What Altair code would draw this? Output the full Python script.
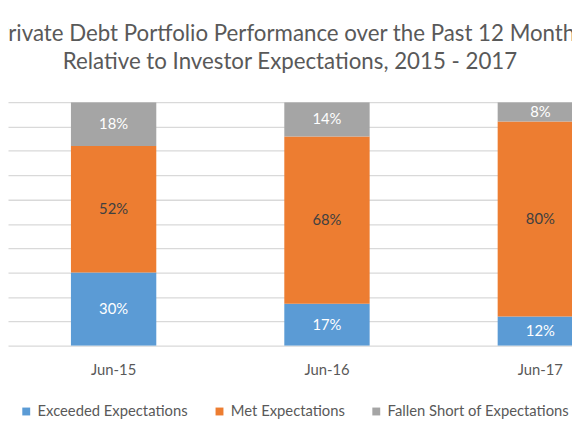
import altair as alt
import pandas as pd

dates = ["Jun-15", "Jun-16", "Jun-17"]
series_names = ["Exceeded Expectations", "Met Expectations", "Fallen Short of Expectations"]
exceeded = [30, 17, 12]
met = [52, 68, 80]
fallen = [18, 14, 8]
colors = ["#5B9BD5", "#ED7D31", "#A5A5A5"]

rows = []
for i, d in enumerate(dates):
    for k, (name, vals) in enumerate(zip(series_names, [exceeded, met, fallen])):
        rows.append({"date": d, "series": name, "value": vals[i], "order": k})
df = pd.DataFrame(rows)

FONT = "Lato"
TXT = "#595959"

base = alt.Chart(df).transform_stack(
    stack="value", groupby=["date"], as_=["y0", "y1"], offset="normalize",
    sort=[alt.SortField("order", order="ascending")]
).transform_calculate(mid="(datum.y0 + datum.y1) / 2", label="datum.value + '%'")

xaxis = alt.Axis(labelAngle=0, domain=False, ticks=False, labelFont=FONT,
                 labelFontSize=15, labelColor=TXT, labelPadding=17)
xscale = alt.Scale(range=[0, 647], paddingInner=0.6, paddingOuter=0.295)
yaxis = alt.Axis(values=[0, 0.1, 0.2, 0.3, 0.4, 0.5, 0.6, 0.7, 0.8, 0.9, 1.0],
                 labels=False, ticks=False, domain=False, grid=True,
                 gridColor="#D9D9D9", gridWidth=1.3)
yscale = alt.Scale(domain=[0, 1])

bars = base.mark_bar(clip=True).encode(
    x=alt.X("date:N", sort=dates, title=None, scale=xscale, axis=xaxis),
    y=alt.Y("y0:Q", scale=yscale, title=None, axis=yaxis),
    y2="y1:Q",
    color=alt.Color("series:N", sort=series_names,
                    scale=alt.Scale(domain=series_names, range=colors),
                    legend=alt.Legend(title=None, orient="none", direction="horizontal",
                                      legendX=11, legendY=306, symbolType="square",
                                      symbolSize=64, symbolStrokeWidth=0,
                                      labelFont=FONT, labelFontSize=15, labelColor=TXT,
                                      labelLimit=0, columnPadding=24, labelOffset=4)),
)

labels = base.mark_text(font=FONT, fontSize=15).encode(
    x=alt.X("date:N", sort=dates, title=None, scale=xscale, axis=xaxis),
    y=alt.Y("mid:Q", scale=yscale, title=None, axis=yaxis),
    text="label:N",
    color=alt.condition(alt.datum.series == "Met Expectations",
                        alt.value("#404040"), alt.value("white")),
)

chart = alt.layer(bars, labels).properties(
    width=572, height=247,
    title=alt.TitleParams(
        text=["Private Debt Portfolio Performance over the Past 12 Months",
              "Relative to Investor Expectations, 2015 - 2017"],
        font=FONT, fontSize=22.6, fontWeight="normal", color=TXT, lineHeight=28,
        anchor="middle", offset=29),
    autosize=alt.AutoSizeParams(type="none"),
    padding={"left": 0, "top": 92.5, "right": 0, "bottom": 80},
).configure_view(stroke=None)

chart.save("out.html", embed_options={"renderer": "svg", "actions": False})
